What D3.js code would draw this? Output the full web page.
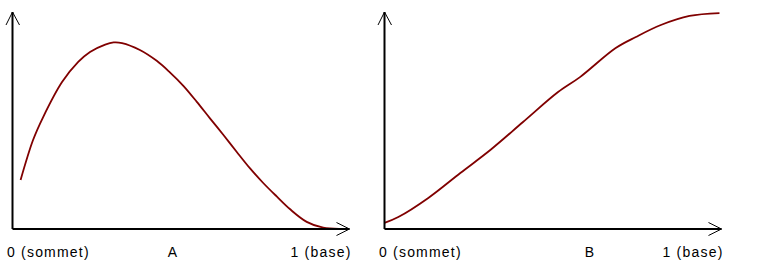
<!DOCTYPE html>
<html>
<head>
<meta charset="utf-8">
<script src="https://cdn.jsdelivr.net/npm/d3@7"></script>
<style>
  body { margin: 0; background: #fff; }
  text { font-family: "Liberation Sans", Arial, sans-serif; font-size: 14px; letter-spacing: 1.2px; fill: #000; }
</style>
</head>
<body>
<svg id="chart"></svg>
<script>
var width = 766, height = 269

// curve A: position along the profile (0 = sommet, 1 = base) and value
var xA = [0.024, 0.061, 0.091, 0.147, 0.195, 0.230, 0.275, 0.300, 0.325, 0.378, 0.428, 0.467,
          0.507, 0.547, 0.586, 0.626, 0.665, 0.705, 0.744, 0.784, 0.823, 0.873, 0.922, 0.972]
var yA = [0.226, 0.410, 0.516, 0.677, 0.770, 0.816, 0.850, 0.860, 0.857, 0.825, 0.775, 0.722,
          0.660, 0.586, 0.510, 0.433, 0.356, 0.279, 0.212, 0.150, 0.092, 0.033, 0.006, 0.001]

// curve B
var xB = [0.000, 0.041, 0.130, 0.225, 0.314, 0.411, 0.515, 0.580, 0.686, 0.746, 0.820, 0.905, 0.994]
var yB = [0.028, 0.055, 0.143, 0.258, 0.364, 0.493, 0.631, 0.700, 0.834, 0.885, 0.940, 0.982, 0.995]

var panelNames = ["A", "B"]
var panelLabelPos = [0.476, 0.61]
var startLabel = "0 (sommet)"
var endLabel = "1 (base)"

var svg = d3.select("#chart")
    .attr("width", width)
    .attr("height", height)

var panels = [
    {name: panelNames[0], at: panelLabelPos[0], xs: xA, ys: yA, x0: 12.5},
    {name: panelNames[1], at: panelLabelPos[1], xs: xB, ys: yB, x0: 384.5}
]

var axisLen = 337, yTop = 12, yBase = 229

panels.forEach(function (p) {
    var x = d3.scaleLinear().domain([0, 1]).range([p.x0, p.x0 + axisLen])
    var y = d3.scaleLinear().domain([0, 1]).range([yBase, yTop])
    var g = svg.append("g")

    var pts = p.xs.map((d, i) => [d, p.ys[i]])
    var line = d3.line()
        .x(d => x(d[0]))
        .y(d => y(d[1]))
        .curve(d3.curveCatmullRom.alpha(0.5))

    g.append("path")
        .attr("d", line(pts))
        .attr("fill", "none")
        .attr("stroke", "#800000")
        .attr("stroke-width", 1.8)

    // axes
    g.append("line")
        .attr("x1", x(0)).attr("y1", y(0))
        .attr("x2", x(0)).attr("y2", y(1))
        .attr("stroke", "#000").attr("stroke-width", 2)
    g.append("line")
        .attr("x1", x(0)).attr("y1", y(0))
        .attr("x2", x(1)).attr("y2", y(0))
        .attr("stroke", "#000").attr("stroke-width", 2)

    // open arrow heads
    g.append("path")
        .attr("d", "M" + (x(0) - 6.5) + "," + (y(1) + 13) + "L" + x(0) + "," + y(1) + "L" + (x(0) + 7) + "," + (y(1) + 13))
        .attr("fill", "none").attr("stroke", "#000").attr("stroke-width", 1)
    g.append("path")
        .attr("d", "M" + (x(1) - 13) + "," + (y(0) - 6.5) + "L" + x(1) + "," + y(0) + "L" + (x(1) - 13) + "," + (y(0) + 6.5))
        .attr("fill", "none").attr("stroke", "#000").attr("stroke-width", 1)

    // labels
    g.append("text")
        .attr("x", x(0) - 5.5).attr("y", 257)
        .text(startLabel)
    g.append("text")
        .attr("x", x(p.at)).attr("y", 257)
        .attr("text-anchor", "middle")
        .text(p.name)
    g.append("text")
        .attr("x", x(1) + 2).attr("y", 257)
        .attr("text-anchor", "end")
        .text(endLabel)
})
</script>
</body>
</html>
